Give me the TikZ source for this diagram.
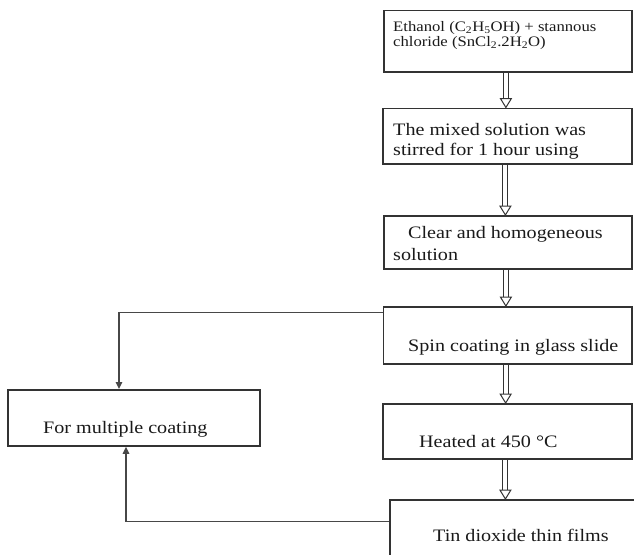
\documentclass[tikz,border=0pt]{standalone}
\usepackage{fontspec}
\setmainfont{Liberation Serif}[FakeStretch=1.15]
\usetikzlibrary{arrows.meta,calc}
\definecolor{boxc}{HTML}{333333}
\definecolor{txt}{HTML}{1A1A1A}
\definecolor{lnc}{HTML}{474747}
\tikzset{
  box/.style={draw=boxc, line width=1.8pt, anchor=north west, inner sep=0pt},
  lbl/.style={anchor=base west, inner sep=0pt, text=txt, font=\fontsize{17.5}{20}\selectfont},
  lblsmall/.style={lbl, font=\fontsize{14.5}{15.5}\selectfont},
  conn/.style={draw=lnc, line width=1.5pt, -{Triangle[width=6.5pt,length=7pt]}},
  dshaft/.style={draw=boxc, line width=1pt},
}
\newcommand\sbs[1]{\textsubscript{#1}}
\newcommand\hollowdown[2]{%
  \draw[dshaft] ($(#1.south)+(-4.5,0)$) -- ($(#1.south |- #2.north)+(-4.5,-9)$);
  \draw[dshaft] ($(#1.south)+(0.5,0)$) -- ($(#1.south |- #2.north)+(0.5,-9)$);
  \draw[dshaft, fill=white, line join=miter]
    ($(#1.south |- #2.north)+(-7.5,-9)$) -- ($(#1.south |- #2.north)+(3.5,-9)$)
    -- ($(#1.south |- #2.north)+(-2,0)$) -- cycle;
}
\begin{document}
\begin{tikzpicture}[x=1pt, y=-1pt]
\clip (0,0) rectangle (634,554);
\fill[white] (0,0) rectangle (634,554);

% boxes
\node[box, minimum width=248pt, minimum height=61.5pt] (b1) at (383,9.5) {};
\node[box, minimum width=249pt, minimum height=55.5pt] (b2) at (382,107.5) {};
\node[box, minimum width=248pt, minimum height=53pt] (b3) at (383,215) {};
\node[box, minimum width=248.5pt, minimum height=56.7pt] (b4) at (382.5,306) {};
\node[box, minimum width=249pt, minimum height=55pt] (b5) at (382,403) {};
\node[box, minimum width=262pt, minimum height=80pt] (b6) at (389,499) {};
\node[box, minimum width=252pt, minimum height=56pt] (bl) at (7,389) {};

% texts
\node[lblsmall] (t1a) at (393,31) {Ethanol (C\sbs{2}H\sbs{5}OH) + stannous};
\node[lblsmall] (t1b) at (393,46.5) {chloride (SnCl\sbs{2}.2H\sbs{2}O)};
\node[lbl] (t2a) at (393,135.7) {The mixed solution was};
\node[lbl] (t2b) at (393,155.7) {stirred for 1 hour using};
\node[lbl] (t3a) at (408,238.5) {Clear and homogeneous};
\node[lbl] (t3b) at (393,260.5) {solution};
\node[lbl] (t4) at (408,351.7) {Spin coating in glass slide};
\node[lbl] (t5) at (419,447) {Heated at 450 °C};
\node[lbl] (t6) at (433,541.7) {Tin dioxide thin films};
\node[lbl] (tl) at (43,433) {For multiple coating};

% hollow double arrows
\hollowdown{b1}{b2}
\hollowdown{b2}{b3}
\hollowdown{b3}{b4}
\hollowdown{b4}{b5}
\hollowdown{b5}{b6}

% side connectors
\coordinate (c4) at ($(b4.north west)+(0,6.7)$);
\coordinate (c6) at ($(b6.north west)+(0,22.7)$);
\draw[conn] (c4) -| ($(bl.north west)+(112,0)$);
\draw[conn] (c6) -| ($(bl.south west)+(119,0)$);
\end{tikzpicture}
\end{document}
